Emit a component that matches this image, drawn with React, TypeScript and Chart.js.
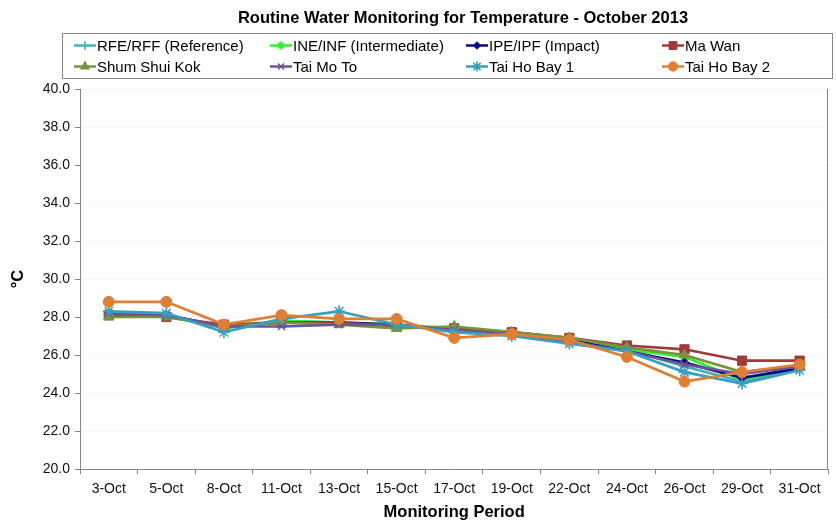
import React, { useEffect, useRef } from 'react';
import { Chart, registerables } from 'chart.js';
import { drawPoint } from 'chart.js/helpers';

Chart.register(...registerables);

const categories = ['3-Oct', '5-Oct', '8-Oct', '11-Oct', '13-Oct', '15-Oct', '17-Oct', '19-Oct', '22-Oct', '24-Oct', '26-Oct', '29-Oct', '31-Oct'];

const rfeReference = [28.2, 28.1, 27.4, 27.8, 27.7, 27.6, 27.3, 27.1, 26.7, 26.3, 25.4, 24.6, 25.3];
const ineIntermediate = [28.1, 28.0, 27.5, 27.8, 27.7, 27.6, 27.4, 27.2, 26.8, 26.3, 25.9, 24.7, 25.4];
const ipeImpact = [28.1, 28.1, 27.5, 27.7, 27.7, 27.6, 27.3, 27.1, 26.8, 26.2, 25.6, 24.8, 25.3];
const maWan = [28.1, 28.0, 27.6, 27.7, 27.7, 27.5, 27.4, 27.2, 26.9, 26.5, 26.3, 25.7, 25.7];
const shumShuiKok = [28.0, 28.0, 27.5, 27.7, 27.6, 27.4, 27.5, 27.2, 26.9, 26.4, 26.0, 25.1, 25.4];
const taiMoTo = [28.2, 28.1, 27.5, 27.5, 27.6, 27.6, 27.3, 27.1, 26.7, 26.2, 25.5, 25.0, 25.4];
const taiHoBay1 = [28.3, 28.2, 27.2, 27.9, 28.3, 27.6, 27.2, 27.0, 26.6, 26.2, 25.1, 24.5, 25.2];
const taiHoBay2 = [28.8, 28.8, 27.6, 28.1, 27.9, 27.9, 26.9, 27.1, 26.8, 25.9, 24.6, 25.1, 25.5];

const seriesNames = ['RFE/RFF (Reference)', 'INE/INF (Intermediate)', 'IPE/IPF (Impact)', 'Ma Wan', 'Shum Shui Kok', 'Tai Mo To', 'Tai Ho Bay 1', 'Tai Ho Bay 2'];
const seriesValues = [rfeReference, ineIntermediate, ipeImpact, maWan, shumShuiKok, taiMoTo, taiHoBay1, taiHoBay2];
const seriesColors = ['#45b3b8', '#33ee33', '#0a0a80', '#9e3b39', '#77933c', '#6f5496', '#3a9ec0', '#df7f35'];
const seriesMarkers = ['cross', 'star', 'rectRot', 'rect', 'triangle', 'crossRot', 'star', 'circle'];
const markerRadius = [5, 5, 4.5, 6.5, 6, 5, 6, 5.5];

const yMin = 20;
const yMax = 40;
const yStep = 2;

const titleText = 'Routine Water Monitoring for Temperature - October 2013';
const xTitle = 'Monitoring Period';
const yTitle = '°C';

const FONT = 'Arial, "Liberation Sans", sans-serif';

const filledMarkers = new Set(['rect', 'rectRot', 'triangle', 'circle']);

const chromePlugin = {
  id: 'chrome',
  beforeDatasetsDraw(chart: any) {
    const { ctx, chartArea } = chart;
    ctx.save();
    ctx.strokeStyle = '#868686';
    ctx.lineWidth = 1;
    ctx.beginPath();
    ctx.moveTo(Math.round(chartArea.right) - 0.5, chartArea.top);
    ctx.lineTo(Math.round(chartArea.right) - 0.5, chartArea.bottom);
    ctx.stroke();
    ctx.restore();
  },
  afterDraw(chart: any) {
    const { ctx } = chart;
    ctx.save();
    ctx.fillStyle = '#000';
    ctx.font = `bold 16.5px ${FONT}`;
    ctx.textAlign = 'center';
    ctx.textBaseline = 'middle';
    ctx.fillText(titleText, 463, 18.5);
    ctx.strokeStyle = '#868686';
    ctx.lineWidth = 1;
    ctx.strokeRect(62.5, 33.5, 770, 45);
    ctx.font = `15px ${FONT}`;
    ctx.textAlign = 'left';
    chart.data.datasets.forEach((ds: any, i: number) => {
      const col = i % 4;
      const row = Math.floor(i / 4);
      const x = 74 + col * 196;
      const y = 45.5 + row * 21;
      ctx.save();
      ctx.strokeStyle = ds.borderColor;
      ctx.lineWidth = 2.5;
      ctx.beginPath();
      ctx.moveTo(x, y);
      ctx.lineTo(x + 22, y);
      ctx.stroke();
      ctx.fillStyle = ds.pointBackgroundColor;
      ctx.strokeStyle = ds.pointBorderColor;
      ctx.lineWidth = ds.pointBorderWidth;
      drawPoint(ctx, { pointStyle: ds.pointStyle, radius: ds.pointRadius * 0.85, rotation: 0, borderWidth: ds.pointBorderWidth }, x + 11, y);
      ctx.restore();
      ctx.fillStyle = '#000';
      ctx.textBaseline = 'middle';
      ctx.fillText(seriesNames[i], x + 23, y + 1);
    });
    ctx.restore();
  },
};

export default function App() {
  const ref = useRef<HTMLCanvasElement>(null);
  useEffect(() => {
    const datasets = seriesNames.map((name, i) => ({
      label: name,
      data: seriesValues[i],
      borderColor: seriesColors[i],
      backgroundColor: seriesColors[i],
      borderWidth: 2.7,
      tension: 0,
      pointStyle: seriesMarkers[i],
      pointRadius: markerRadius[i],
      pointBackgroundColor: seriesColors[i],
      pointBorderColor: seriesColors[i],
      pointBorderWidth: filledMarkers.has(seriesMarkers[i]) ? 1 : 1.6,
      order: seriesNames.length - i,
    }));
    const chart = new Chart(ref.current as HTMLCanvasElement, {
      type: 'line',
      data: { labels: categories, datasets },
      options: {
        responsive: false,
        animation: false,
        devicePixelRatio: 1,
        layout: { padding: { top: 89, right: 3, left: 0, bottom: 0 } },
        plugins: {
          legend: { display: false },
          title: { display: false },
          tooltip: { enabled: false },
        },
        scales: {
          x: {
            offset: true,
            grid: { drawOnChartArea: false, drawTicks: true, tickLength: 5, color: '#868686', offset: true },
            border: { display: true, color: '#868686', width: 1 },
            ticks: { font: { family: FONT, size: 14 }, color: '#111', padding: 7, maxRotation: 0, autoSkip: false },
            title: { display: true, text: xTitle, font: { family: FONT, size: 16.5, weight: 'bold' }, color: '#000', padding: { top: 4, bottom: 2 } },
            afterFit: (s: any) => { s.height = 55; },
          },
          y: {
            min: yMin,
            max: yMax,
            ticks: { stepSize: yStep, callback: (v: any) => Number(v).toFixed(1), font: { family: FONT, size: 14 }, color: '#111', padding: 5 },
            grid: { color: '#efefef', tickColor: '#868686', tickLength: 5, drawTicks: true, tickBorderDash: [] },
            border: { display: true, color: '#868686', width: 1, dash: [2, 2] },
            title: { display: true, text: yTitle, font: { family: FONT, size: 16.5, weight: 'bold' }, color: '#000', padding: { top: 9, bottom: 4 } },
            afterFit: (s: any) => { s.width = 80; },
          },
        },
      } as any,
      plugins: [chromePlugin],
    });
    return () => chart.destroy();
  }, []);
  return (
    <div style={{ position: 'fixed', left: 0, top: 0, width: 836, height: 524, background: '#fff' }}>
      <canvas ref={ref} width={836} height={524} style={{ display: 'block' }} />
    </div>
  );
}
